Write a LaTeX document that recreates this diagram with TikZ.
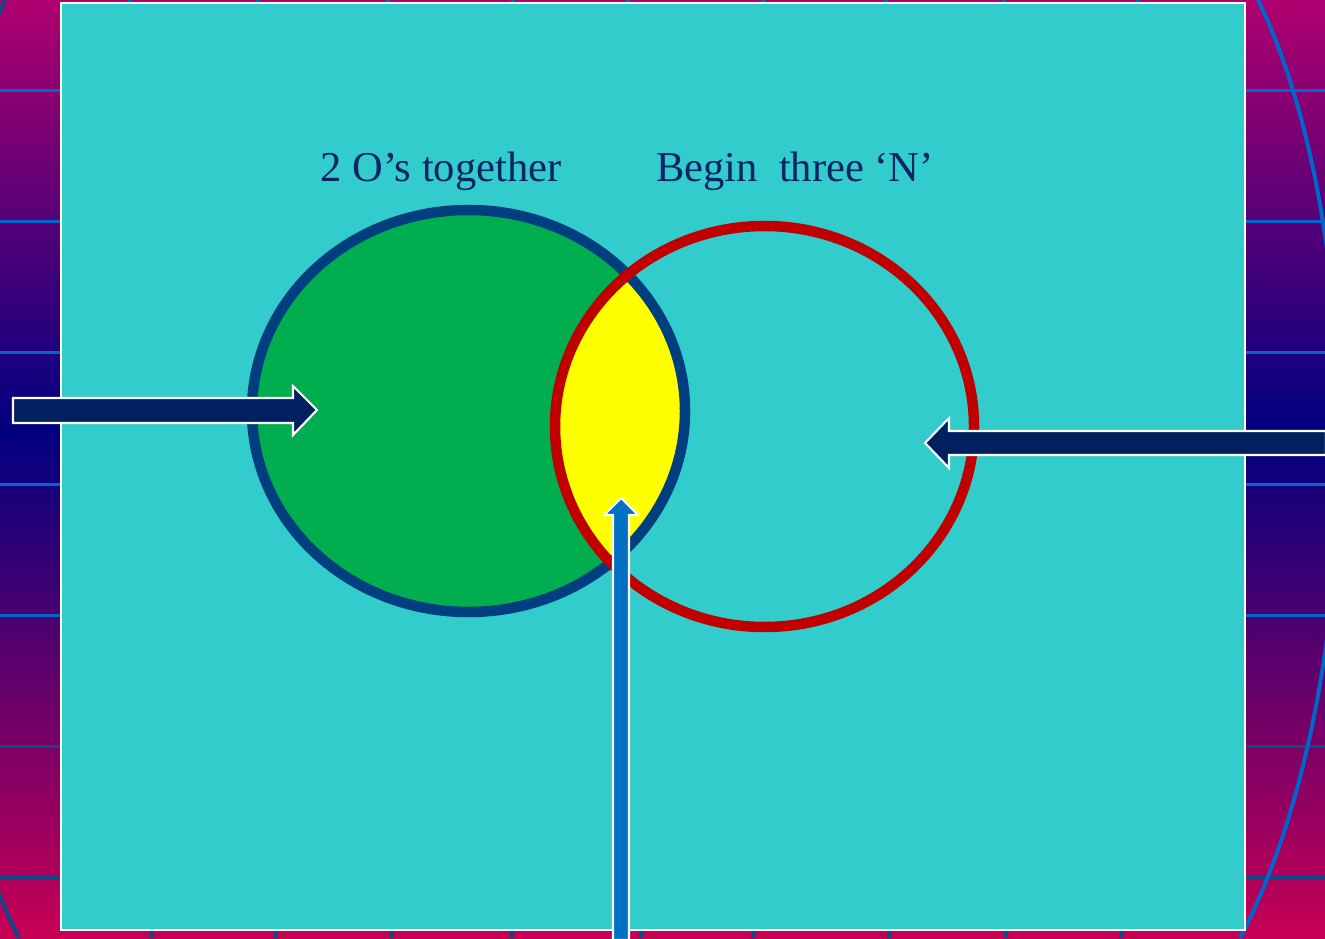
\documentclass[tikz,border=0pt]{standalone}
\usepackage{fontspec}
\setmainfont{Liberation Serif}
\definecolor{bgtop}{RGB}{176,0,110}
\definecolor{bgmid}{RGB}{0,0,128}
\definecolor{bgbot}{RGB}{200,0,84}
\definecolor{gridlight}{RGB}{0,102,204}
\definecolor{griddark}{RGB}{10,74,138}
\definecolor{panel}{RGB}{51,204,204}
\definecolor{leafgreen}{RGB}{0,173,79}
\definecolor{ringblue}{RGB}{0,63,127}
\definecolor{ringred}{RGB}{192,0,0}
\definecolor{lensyellow}{RGB}{255,255,0}
\definecolor{navyarrow}{RGB}{0,32,96}
\definecolor{bluearrow}{RGB}{0,112,192}
\definecolor{labelnavy}{RGB}{10,36,100}
\tikzset{
  blockarrow/.style = {draw=white, line width=0.6pt, line join=miter},
  caption/.style = {text=labelnavy, font=\fontsize{12.1pt}{14pt}\selectfont, inner sep=0pt}
}
\begin{document}
\begin{tikzpicture}[x=0.1mm, y=-0.1mm]
	\useasboundingbox (0,0) rectangle (1325,938);
	% globe backdrop
	\shade[top color=bgtop, bottom color=bgmid] (0,0) rectangle (1325,431);
	\shade[top color=bgmid, bottom color=bgbot] (0,430) rectangle (1325,938);
	\foreach \yy in {91,222,353,484,615} \draw[gridlight, line width=0.3mm] (0,\yy) -- (1325,\yy);
	\foreach \yy in {746,877} \draw[griddark, line width=0.3mm] (0,\yy) -- (1325,\yy);
	\foreach \xt/\xb in {130/151,258/276,388/392,513/512,628/641,763/753,886/889,1004/1006,1138/1121} {
		\draw[gridlight, line width=0.4mm] (\xt,0) -- ({(\xt+\xb)/2},469);
		\draw[griddark, line width=0.4mm] ({(\xt+\xb)/2},469) -- (\xb,938);
	}
	\draw[gridlight, line width=0.4mm] (1258,0) .. controls (1370,230) and (1370,690) .. (1240,938);
	\draw[griddark, line width=0.4mm] (5,0) .. controls (-105,230) and (-105,690) .. (19,938);
	% panel
	\draw[white, fill=panel, line width=0.25mm] (61,3) rectangle (1245,930);
	% labels
	\node[caption] (lbltogether) at (441,171) {2 O’s together};
	\node[caption] (lblbegin) at (795,171) {Begin\ \ three ‘N’};
	% the two rings
	\fill[leafgreen] (468.5,411) ellipse [x radius=216.5, y radius=201];
	\begin{scope}
		\clip (468.5,411) ellipse [x radius=216.5, y radius=201];
		\fill[lensyellow] (764.5,426.5) ellipse [x radius=209.5, y radius=200.5];
	\end{scope}
	\draw[ringblue, line width=1.05mm] (468.5,411) ellipse [x radius=216.5, y radius=201];
	\draw[ringred, line width=1.05mm] (764.5,426.5) ellipse [x radius=209.5, y radius=200.5];
	% arrows
	\draw[blockarrow, fill=navyarrow] (13,398) -- (293,398) -- (293,386) -- (317,410) -- (293,435) -- (293,423) -- (13,423) -- cycle;
	\draw[blockarrow, fill=navyarrow] (1326,431) -- (949,431) -- (949,418) -- (925,443) -- (949,468) -- (949,455) -- (1326,455) -- cycle;
	\draw[blockarrow, fill=bluearrow] (613,940) -- (613,515) -- (604,515) -- (621,498) -- (638,515) -- (629,515) -- (629,940) -- cycle;
\end{tikzpicture}
\end{document}
